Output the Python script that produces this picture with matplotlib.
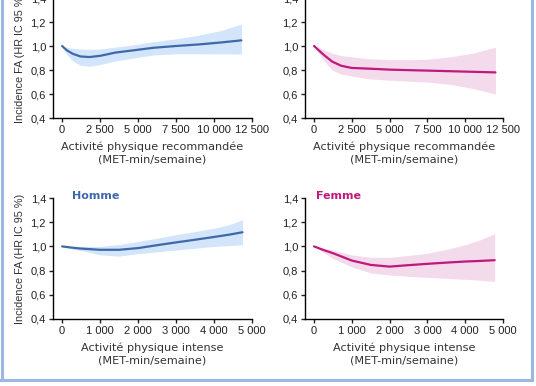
import matplotlib.pyplot as plt
from matplotlib.lines import Line2D
from matplotlib.ticker import FuncFormatter

# Activité physique recommandée (MET-min/semaine)
reco_x_homme = [0, 300, 700, 1200, 1800, 2500, 3500, 4700, 6000, 7500, 9000, 10500, 11800]
reco_hr_homme = [1.0, 0.965, 0.935, 0.913, 0.908, 0.918, 0.945, 0.964, 0.985, 1.0, 1.013, 1.03, 1.047]
reco_lo_homme = [1.0, 0.93, 0.875, 0.84, 0.83, 0.845, 0.875, 0.9, 0.925, 0.935, 0.935, 0.934, 0.933]
reco_hi_homme = [1.0, 0.99, 0.98, 0.975, 0.972, 0.975, 0.99, 1.01, 1.035, 1.06, 1.09, 1.13, 1.183]

reco_x_femme = [0, 300, 700, 1200, 1800, 2500, 3500, 5000, 6500, 7500, 9000, 10500, 12000]
reco_hr_femme = [1.0, 0.965, 0.92, 0.87, 0.835, 0.817, 0.812, 0.803, 0.798, 0.795, 0.79, 0.785, 0.78]
reco_lo_femme = [1.0, 0.94, 0.87, 0.8, 0.765, 0.75, 0.728, 0.715, 0.705, 0.7, 0.68, 0.645, 0.6]
reco_hi_femme = [1.0, 0.99, 0.965, 0.94, 0.92, 0.91, 0.895, 0.886, 0.886, 0.89, 0.91, 0.94, 0.99]

# Activité physique intense (MET-min/semaine)
int_x_homme = [0, 250, 500, 1000, 1500, 2000, 2500, 3000, 3500, 4000, 4400, 4750]
int_hr_homme = [1.0, 0.99, 0.982, 0.972, 0.972, 0.986, 1.01, 1.033, 1.055, 1.078, 1.097, 1.117]
int_lo_homme = [1.0, 0.98, 0.965, 0.93, 0.92, 0.94, 0.955, 0.97, 0.985, 1.0, 1.007, 1.014]
int_hi_homme = [1.0, 1.0, 1.0, 1.0, 1.015, 1.04, 1.068, 1.097, 1.123, 1.15, 1.18, 1.22]

int_x_femme = [0, 250, 500, 1000, 1500, 2000, 2500, 3000, 3500, 4000, 4400, 4780]
int_hr_femme = [1.0, 0.97, 0.944, 0.883, 0.847, 0.833, 0.845, 0.856, 0.866, 0.875, 0.88, 0.886]
int_lo_femme = [1.0, 0.95, 0.9, 0.83, 0.78, 0.764, 0.753, 0.744, 0.736, 0.728, 0.72, 0.71]
int_hi_femme = [1.0, 0.985, 0.97, 0.93, 0.91, 0.91, 0.925, 0.944, 0.975, 1.014, 1.055, 1.105]

y_ticks = [0.4, 0.6, 0.8, 1.0, 1.2, 1.4]
reco_ticks = [0, 2500, 5000, 7500, 10000, 12500]
int_ticks = [0, 1000, 2000, 3000, 4000, 5000]

BLUE = "#3f68ab"
BLUE_FILL = "#d3e5fa"
PINK = "#c0187c"
PINK_FILL = "#f3dbec"
FRAME = "#9cb8e2"

W, H = 536, 386


def px_axes(fig, left, right, top, bottom):
    return fig.add_axes([left / W, 1 - bottom / H, (right - left) / W, (bottom - top) / H])


def style_axes(ax, xticks, xlim, xlabel, show_ylabel):
    for side in ("top", "right"):
        ax.spines[side].set_visible(False)
    for side in ("left", "bottom"):
        ax.spines[side].set_linewidth(1.0)
    ax.set_xlim(*xlim)
    ax.set_ylim(0.4, 1.4)
    ax.set_xticks(xticks)
    ax.set_yticks(y_ticks)
    ax.xaxis.set_major_formatter(FuncFormatter(lambda v, p: f"{int(v):,}".replace(",", " ")))
    ax.yaxis.set_major_formatter(FuncFormatter(lambda v, p: f"{v:.1f}".replace(".", ",")))
    ax.tick_params(length=3, width=1, labelsize=8, pad=2, colors="#222222")
    for lab in ax.get_xticklabels() + ax.get_yticklabels():
        lab.set_family("Liberation Sans")
    ax.set_xlabel(xlabel, fontsize=8.1, labelpad=5, color="#333333", linespacing=1.25)
    if show_ylabel:
        ax.set_ylabel("Incidence FA (HR IC 95 %)", fontsize=7.8, labelpad=4,
                      color="#333333", family="Liberation Sans")


def draw(ax, x, hr, lo, hi, line_color, fill_color):
    ax.fill_between(x, lo, hi, color=fill_color, linewidth=0)
    ax.plot(x, hr, color=line_color, linewidth=1.6, solid_capstyle="round")


fig = plt.figure(figsize=(W / 100, H / 100), dpi=100)

reco_label = "Activité physique recommandée\n(MET-min/semaine)"
int_label = "Activité physique intense\n(MET-min/semaine)"

ax1 = px_axes(fig, 53, 252, -2, 118)
draw(ax1, reco_x_homme, reco_hr_homme, reco_lo_homme, reco_hi_homme, BLUE, BLUE_FILL)
style_axes(ax1, reco_ticks, (-600, 12500), reco_label, True)

ax2 = px_axes(fig, 305, 503, -2, 118)
draw(ax2, reco_x_femme, reco_hr_femme, reco_lo_femme, reco_hi_femme, PINK, PINK_FILL)
style_axes(ax2, reco_ticks, (-600, 12500), reco_label, False)

ax3 = px_axes(fig, 53, 252, 198, 319)
draw(ax3, int_x_homme, int_hr_homme, int_lo_homme, int_hi_homme, BLUE, BLUE_FILL)
style_axes(ax3, int_ticks, (-240, 5000), int_label, True)
ax3.text(0.095, 1.02, "Homme", transform=ax3.transAxes, color=BLUE,
         fontsize=8, fontweight="bold", va="center", ha="left")

ax4 = px_axes(fig, 305, 503, 198, 319)
draw(ax4, int_x_femme, int_hr_femme, int_lo_femme, int_hi_femme, PINK, PINK_FILL)
style_axes(ax4, int_ticks, (-240, 5000), int_label, False)
ax4.text(0.055, 1.02, "Femme", transform=ax4.transAxes, color=PINK,
         fontsize=8, fontweight="bold", va="center", ha="left")

# blue frame around the figure (left, bottom, right)
fig.add_artist(Line2D([1.5 / W, 1.5 / W], [1, 1 - 380 / H], color=FRAME, linewidth=2.2))
fig.add_artist(Line2D([0, 532 / W], [1 - 380 / H, 1 - 380 / H], color=FRAME, linewidth=2.2))
fig.add_artist(Line2D([532 / W, 532 / W], [1, 1 - 380 / H], color=FRAME, linewidth=2.2))

fig.savefig("out.png", dpi=100)
